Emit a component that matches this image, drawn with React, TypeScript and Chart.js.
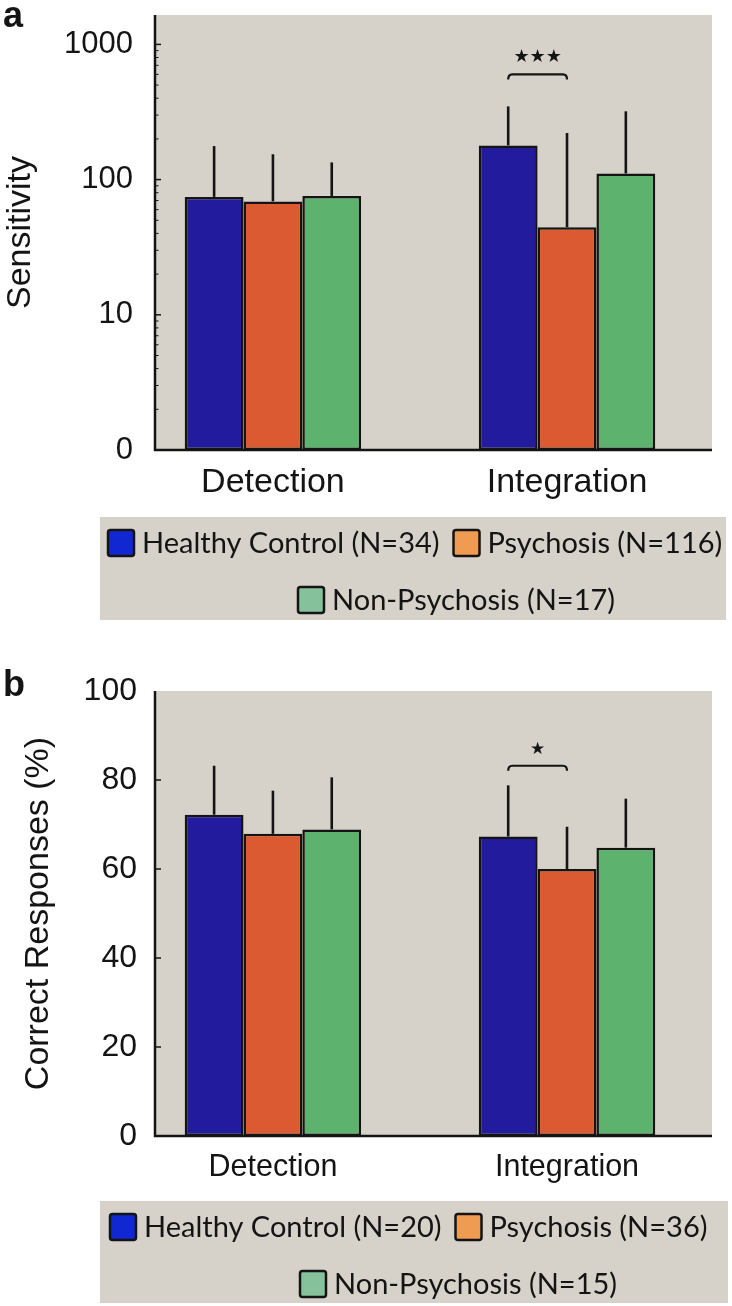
import React, { useEffect, useRef } from "react";
import { Chart, registerables } from "chart.js";
Chart.register(...registerables);

const FONT = "'Liberation Sans', Arial, Helvetica, sans-serif";
const LEGEND_FONT = "Lato, 'Open Sans', sans-serif";
const INK = "#141414";
const PANEL_BG = "#d6d2ca";

const categories = ["Detection", "Integration"];
const groups = ["Healthy Control", "Psychosis", "Non-Psychosis"];
const barColors = ["#231b9e", "#db5a31", "#5db26d"];
const legendSwatches = ["#1127d2", "#ef9c52", "#85c29c"];

// Panel a: Sensitivity (log axis)
const sensN = [34, 116, 17];
const sensHealthy = [74.5, 179];
const sensPsychosis = [69, 44.4];
const sensNonPsychosis = [75.7, 111];
const sensHealthyUpper = [177, 348];
const sensPsychosisUpper = [154, 221];
const sensNonPsychosisUpper = [134, 320];
const sensTickValues = [1, 10, 100, 1000];
const sensTickLabels = ["0", "10", "100", "1000"];
const sensSigText = "★★★";
const sensSigBracket = 600;
const sensSigLabel = 800;

// Panel b: Correct responses (%)
const corrN = [20, 36, 15];
const corrHealthy = [72.2, 67.3];
const corrPsychosis = [67.9, 60.0];
const corrNonPsychosis = [68.9, 64.8];
const corrHealthyUpper = [83.2, 78.8];
const corrPsychosisUpper = [77.6, 69.5];
const corrNonPsychosisUpper = [80.6, 75.8];
const corrTickValues = [0, 20, 40, 60, 80, 100];
const corrTickLabels = ["0", "20", "40", "60", "80", "100"];
const corrSigText = "★";
const corrSigBracket = 83.2;
const corrSigLabel = 86.9;

type PanelCfg = {
  letter: string;
  letterY: number;
  height: number;
  log: boolean;
  yMin: number;
  yMax: number;
  tickValues: number[];
  tickLabels: string[];
  majorMarks: number[];
  minorMarks: number[];
  title: string;
  titlePad: number;
  tickFont: number;
  tickPad: number;
  xFont: number;
  xPad: number;
  padTop: number;
  xHeight: number;
  means: number[][];
  uppers: number[][];
  ns: number[];
  sigText: string;
  sigFont: number;
  sigBracket: number;
  sigLabel: number;
  legend: { left: number; right: number; top: number; bottom: number; row1Y: number; row2Y: number; row1X: number; row2X: number; font: number };
};

function roundRectPath(ctx: CanvasRenderingContext2D, x: number, y: number, w: number, h: number, r: number) {
  ctx.beginPath();
  ctx.moveTo(x + r, y);
  ctx.lineTo(x + w - r, y);
  ctx.quadraticCurveTo(x + w, y, x + w, y + r);
  ctx.lineTo(x + w, y + h - r);
  ctx.quadraticCurveTo(x + w, y + h, x + w - r, y + h);
  ctx.lineTo(x + r, y + h);
  ctx.quadraticCurveTo(x, y + h, x, y + h - r);
  ctx.lineTo(x, y + r);
  ctx.quadraticCurveTo(x, y, x + r, y);
  ctx.closePath();
}

function makeDecor(p: PanelCfg) {
  return {
    id: "decor",
    beforeDatasetsDraw(chart: any) {
      const { ctx, chartArea: a } = chart;
      ctx.save();
      ctx.fillStyle = PANEL_BG;
      ctx.fillRect(a.left, a.top, a.right - a.left, a.bottom - a.top);
      ctx.restore();
    },
    afterDatasetsDraw(chart: any) {
      const { ctx, chartArea: a } = chart;
      const y = chart.scales.y;
      ctx.save();
      ctx.strokeStyle = INK;
      // error bars (upper)
      ctx.lineWidth = 2.6;
      p.uppers.forEach((arr, di) => {
        const meta = chart.getDatasetMeta(di);
        meta.data.forEach((el: any, j: number) => {
          const top = y.getPixelForValue(arr[j]);
          ctx.beginPath();
          ctx.moveTo(el.x, el.y);
          ctx.lineTo(el.x, top);
          ctx.stroke();
        });
      });
      // axes
      ctx.lineWidth = 2.5;
      ctx.beginPath();
      ctx.moveTo(a.left, a.top);
      ctx.lineTo(a.left, a.bottom);
      ctx.lineTo(a.right, a.bottom);
      ctx.stroke();
      // inward tick marks
      ctx.lineWidth = 1.5;
      p.majorMarks.forEach((v) => {
        const py = y.getPixelForValue(v);
        ctx.beginPath();
        ctx.moveTo(a.left, py);
        ctx.lineTo(a.left + 6, py);
        ctx.stroke();
      });
      ctx.lineWidth = 1;
      p.minorMarks.forEach((v) => {
        const py = y.getPixelForValue(v);
        ctx.beginPath();
        ctx.moveTo(a.left, py);
        ctx.lineTo(a.left + 3.5, py);
        ctx.stroke();
      });
      // significance bracket between Healthy and Psychosis in Integration
      const e0 = chart.getDatasetMeta(0).data[1];
      const e1 = chart.getDatasetMeta(1).data[1];
      const by = y.getPixelForValue(p.sigBracket);
      ctx.lineWidth = 2.2;
      ctx.lineJoin = "round";
      ctx.beginPath();
      ctx.moveTo(e0.x, by + 5);
      ctx.quadraticCurveTo(e0.x, by, e0.x + 4, by);
      ctx.lineTo(e1.x - 4, by);
      ctx.quadraticCurveTo(e1.x, by, e1.x, by + 5);
      ctx.stroke();
      ctx.fillStyle = INK;
      ctx.font = `${p.sigFont}px 'DejaVu Sans', sans-serif`;
      ctx.textAlign = "center";
      ctx.textBaseline = "middle";
      ctx.fillText(p.sigText, (e0.x + e1.x) / 2, y.getPixelForValue(p.sigLabel));
      ctx.restore();
    },
    afterDraw(chart: any) {
      const { ctx } = chart;
      ctx.save();
      // panel letter
      ctx.fillStyle = INK;
      ctx.font = `bold 36px ${FONT}`;
      ctx.textAlign = "left";
      ctx.textBaseline = "alphabetic";
      ctx.fillText(p.letter, 3, p.letterY);
      // legend
      const L = p.legend;
      ctx.fillStyle = PANEL_BG;
      ctx.fillRect(L.left, L.top, L.right - L.left, L.bottom - L.top);
      ctx.font = `${L.font}px ${LEGEND_FONT}`;
      ctx.textBaseline = "middle";
      const labels = groups.map((g, i) => `${g} (N=${p.ns[i]})`);
      const s = 26;
      const drawItem = (i: number, x: number, cy: number) => {
        roundRectPath(ctx, x, cy - s / 2, s, s, 2.5);
        ctx.fillStyle = legendSwatches[i];
        ctx.fill();
        ctx.lineWidth = 2.5;
        ctx.strokeStyle = INK;
        ctx.stroke();
        ctx.fillStyle = INK;
        ctx.fillText(labels[i], x + s + 8, cy + 1);
        return x + s + 8 + ctx.measureText(labels[i]).width;
      };
      const end = drawItem(0, L.row1X, L.row1Y);
      drawItem(1, end + 14, L.row1Y);
      drawItem(2, L.row2X, L.row2Y);
      ctx.restore();
    },
  };
}

function Panel({ cfg, top }: { cfg: PanelCfg; top: number }) {
  const ref = useRef<HTMLCanvasElement>(null);
  useEffect(() => {
    const datasets = groups.map((g, i) => ({
      label: g,
      data: categories.map((_, j) => ({ x: j, y: cfg.means[i][j] })),
      backgroundColor: barColors[i],
      borderColor: INK,
      borderWidth: 2.5,
      borderSkipped: false as const,
      categoryPercentage: 0.6,
      barPercentage: 1.0,
    }));
    const chart = new Chart(ref.current as HTMLCanvasElement, {
      type: "bar",
      data: { datasets },
      options: {
        animation: false,
        responsive: false,
        devicePixelRatio: 1,
        layout: { padding: { left: 0, right: 20, top: cfg.padTop, bottom: 0 } },
        plugins: { legend: { display: false }, tooltip: { enabled: false } },
        scales: {
          x: {
            type: "linear",
            min: -0.401,
            max: 1.493,
            offset: false,
            afterBuildTicks: (s: any) => {
              s.ticks = categories.map((_, i) => ({ value: i }));
            },
            afterFit: (s: any) => {
              s.height = cfg.xHeight;
              s.paddingLeft = 0;
              s.paddingRight = 0;
            },
            grid: { display: false, drawTicks: false },
            border: { display: false },
            ticks: {
              autoSkip: false,
              maxRotation: 0,
              padding: cfg.xPad,
              color: INK,
              font: { family: FONT, size: cfg.xFont },
              callback: (v: any) => categories[Math.round(Number(v))] ?? "",
            },
          },
          y: {
            type: cfg.log ? "logarithmic" : "linear",
            min: cfg.yMin,
            max: cfg.yMax,
            afterBuildTicks: (s: any) => {
              s.ticks = cfg.tickValues.map((v) => ({ value: v }));
            },
            afterFit: (s: any) => {
              s.width = 155;
              s.paddingTop = 0;
              s.paddingBottom = 0;
            },
            grid: { display: false, drawTicks: false },
            border: { display: false },
            ticks: {
              autoSkip: false,
              padding: cfg.tickPad,
              color: INK,
              font: { family: FONT, size: cfg.tickFont },
              callback: (v: any) => {
                const idx = cfg.tickValues.indexOf(Number(v));
                return idx >= 0 ? cfg.tickLabels[idx] : "";
              },
            },
            title: {
              display: true,
              text: cfg.title,
              color: INK,
              font: { family: FONT, size: 34 },
              padding: { top: cfg.titlePad, bottom: 0 },
            },
          },
        },
      } as any,
      plugins: [makeDecor(cfg)],
    });
    return () => chart.destroy();
  }, [cfg]);
  return (
    <div style={{ position: "absolute", left: 0, top, width: 732, height: cfg.height }}>
      <canvas ref={ref} width={732} height={cfg.height} style={{ display: "block", width: 732, height: cfg.height }} />
    </div>
  );
}

const sensMinor: number[] = [];
[1, 10, 100, 1000].forEach((d) => {
  for (let k = 2; k <= 9; k++) if (k * d < 1650) sensMinor.push(k * d);
});

const panelA: PanelCfg = {
  letter: "a",
  letterY: 27,
  height: 650,
  log: true,
  yMin: 1,
  yMax: 1650,
  tickValues: sensTickValues,
  tickLabels: sensTickLabels,
  majorMarks: [10, 100, 1000],
  minorMarks: sensMinor,
  title: "Sensitivity",
  titlePad: 0,
  tickFont: 31,
  tickPad: 22,
  xFont: 34,
  xPad: 12,
  padTop: 15,
  xHeight: 200,
  means: [sensHealthy, sensPsychosis, sensNonPsychosis],
  uppers: [sensHealthyUpper, sensPsychosisUpper, sensNonPsychosisUpper],
  ns: sensN,
  sigText: sensSigText,
  sigFont: 18,
  sigBracket: sensSigBracket,
  sigLabel: sensSigLabel,
  legend: { left: 100, right: 726, top: 517, bottom: 620, row1Y: 543, row2Y: 600, row1X: 108, row2X: 298, font: 29 },
};

const panelB: PanelCfg = {
  letter: "b",
  letterY: 46,
  height: 656,
  log: false,
  yMin: 0,
  yMax: 100,
  tickValues: corrTickValues,
  tickLabels: corrTickLabels,
  majorMarks: [20, 40, 60, 80],
  minorMarks: [],
  title: "Correct Responses (%)",
  titlePad: 18,
  tickFont: 32,
  tickPad: 18,
  xFont: 30.5,
  xPad: 13,
  padTop: 41,
  xHeight: 170,
  means: [corrHealthy, corrPsychosis, corrNonPsychosis],
  uppers: [corrHealthyUpper, corrPsychosisUpper, corrNonPsychosisUpper],
  ns: corrN,
  sigText: corrSigText,
  sigFont: 17,
  sigBracket: corrSigBracket,
  sigLabel: corrSigLabel,
  legend: { left: 100, right: 728, top: 551, bottom: 653, row1Y: 577, row2Y: 634, row1X: 110, row2X: 300, font: 29 },
};

export default function App() {
  return (
    <div style={{ position: "absolute", left: 0, top: 0, width: 732, height: 1306, background: "#ffffff" }}>
      <Panel cfg={panelA} top={0} />
      <Panel cfg={panelB} top={650} />
    </div>
  );
}
